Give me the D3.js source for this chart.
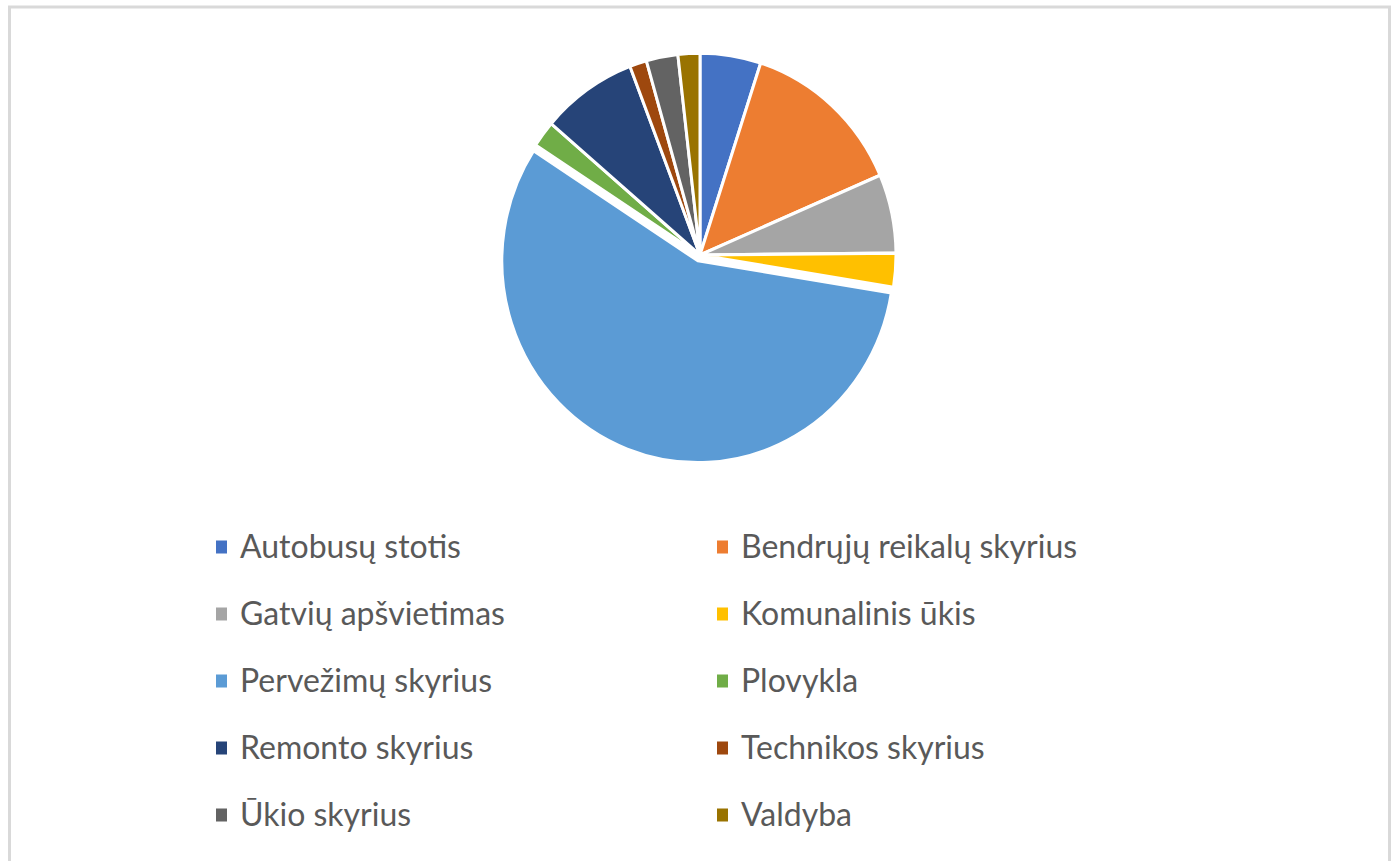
<!DOCTYPE html>
<html>
<head>
<meta charset="utf-8">
<script src="https://cdn.jsdelivr.net/npm/d3@7"></script>
<style>
  body { margin: 0; background: #fff; }
  svg { display: block; }
</style>
</head>
<body>
<div id="chart"></div>
<script>
const categories = ["Autobusų stotis", "Bendrųjų reikalų skyrius", "Gatvių apšvietimas", "Komunalinis ūkis",
  "Pervežimų skyrius", "Plovykla", "Remonto skyrius", "Technikos skyrius", "Ūkio skyrius", "Valdyba"];
const values = [5.0, 13.5, 6.3, 2.7, 56.5, 2.1, 7.9, 1.4, 2.6, 1.8];
const colors = ["#4472C4", "#ED7D31", "#A5A5A5", "#FFC000", "#5B9BD5", "#70AD47", "#264478", "#9E480E", "#636363", "#997300"];
const exploded = ["Pervežimų skyrius"];

const width = 1394, height = 861;

const svg = d3.select("#chart").append("svg")
    .attr("width", width)
    .attr("height", height);

// chart frame
svg.append("rect")
    .attr("x", 9.5).attr("y", 7)
    .attr("width", 1380).attr("height", 880)
    .attr("fill", "#fff")
    .attr("stroke", "#d9d9d9")
    .attr("stroke-width", 3);

const data = categories.map((c, i) => ({ name: c, value: values[i], color: colors[i] }));

const pie = d3.pie().sort(null).value(d => d.value);
const r = 196;
const arc = d3.arc().innerRadius(0).outerRadius(r);

const g = svg.append("g")
    .attr("transform", "translate(700,255) scale(1,1.03)");

g.selectAll("path")
  .data(pie(data))
  .join("path")
    .attr("d", arc)
    .attr("fill", d => d.data.color)
    .attr("stroke", "#fff")
    .attr("stroke-width", 3)
    .attr("stroke-linejoin", "round")
    .attr("transform", d => {
      if (!exploded.includes(d.data.name)) return null;
      const a = (d.startAngle + d.endAngle) / 2;
      return `translate(${Math.sin(a) * 6},${-Math.cos(a) * 6})`;
    });

// legend, two columns
const colX = [216, 717];
const rowY = d3.range(5).map(i => 547 + i * 67);

const legend = svg.append("g")
    .attr("font-family", "Lato, 'Liberation Sans', sans-serif")
    .attr("font-size", 32)
    .attr("fill", "#595959");

const item = legend.selectAll("g")
  .data(data)
  .join("g")
    .attr("transform", (d, i) => `translate(${colX[i % 2]},${rowY[Math.floor(i / 2)]})`);

item.append("rect")
    .attr("x", 0).attr("y", -6.5)
    .attr("width", 11).attr("height", 13)
    .attr("fill", d => d.color);

item.append("text")
    .attr("x", 24)
    .attr("dy", "0.35em")
    .text(d => d.name);
</script>
</body>
</html>
